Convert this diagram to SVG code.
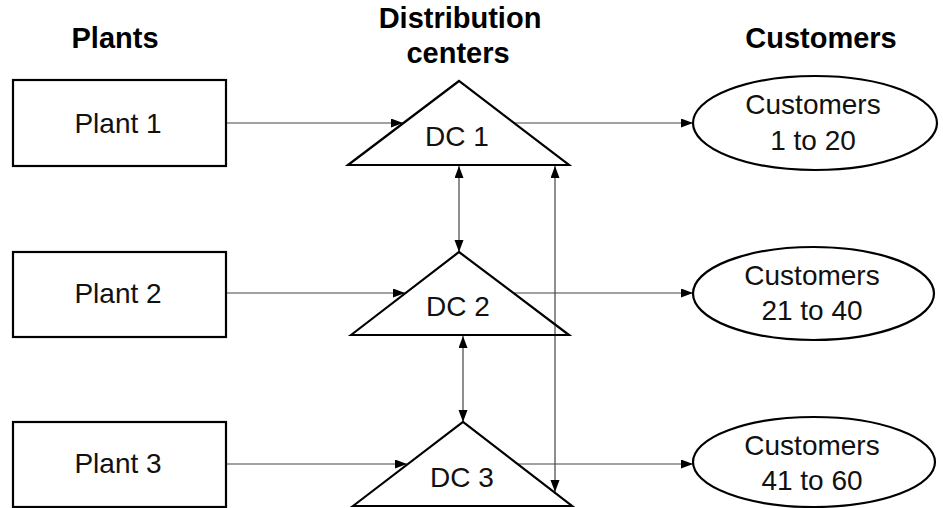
<svg xmlns="http://www.w3.org/2000/svg" width="943" height="508" viewBox="0 0 943 508">
  <style>
    .shape { fill: #ffffff; stroke: #000000; stroke-width: 2.2; }
    .head { font-family: "Liberation Sans", Arial, sans-serif; font-size: 29px; font-weight: bold; fill: #000000; text-anchor: middle; }
    .label { font-family: "Liberation Sans", Arial, sans-serif; font-size: 28px; fill: #111111; text-anchor: middle; }
    .conn { fill: none; stroke: #444444; stroke-width: 1.2; }
  </style>
  <defs>
    <marker id="arrow" markerUnits="userSpaceOnUse" markerWidth="13" markerHeight="10" refX="12" refY="4.5" orient="auto-start-reverse">
      <path d="M0,0 L12,4.5 L0,9 z" fill="#000000"/>
    </marker>
  </defs>

  <!-- column headings -->
  <text class="head" x="115" y="48">Plants</text>
  <text class="head" x="460" y="28">Distribution</text>
  <text class="head" x="458" y="63">centers</text>
  <text class="head" x="821" y="48">Customers</text>

  <!-- connectors -->
  <g id="connectors">
    <line class="conn" x1="226" y1="123" x2="403" y2="123" marker-end="url(#arrow)"/>
    <line class="conn" x1="226" y1="293" x2="405" y2="293" marker-end="url(#arrow)"/>
    <line class="conn" x1="226" y1="464" x2="407" y2="464" marker-end="url(#arrow)"/>
    <line class="conn" x1="514" y1="123" x2="693" y2="123" marker-end="url(#arrow)"/>
    <line class="conn" x1="513" y1="293" x2="693" y2="293" marker-end="url(#arrow)"/>
    <line class="conn" x1="517" y1="464" x2="693" y2="464" marker-end="url(#arrow)"/>
    <line class="conn" x1="459" y1="166" x2="459" y2="252" marker-start="url(#arrow)" marker-end="url(#arrow)"/>
    <line class="conn" x1="463" y1="336" x2="463" y2="422" marker-start="url(#arrow)" marker-end="url(#arrow)"/>
    <line class="conn" x1="555" y1="166" x2="555" y2="492" marker-start="url(#arrow)" marker-end="url(#arrow)"/>
  </g>

  <!-- plants -->
  <g id="plant1">
    <rect class="shape" x="13" y="80" width="213" height="86"/>
    <text class="label" x="118" y="133">Plant 1</text>
  </g>
  <g id="plant2">
    <rect class="shape" x="13" y="252" width="213" height="85"/>
    <text class="label" x="118" y="303">Plant 2</text>
  </g>
  <g id="plant3">
    <rect class="shape" x="13" y="422" width="213" height="85"/>
    <text class="label" x="118" y="473">Plant 3</text>
  </g>

  <!-- distribution centers -->
  <g id="dc1">
    <polygon class="shape" points="348,165 459,81 569,165" fill-opacity="0"/>
    <text class="label" x="457" y="146">DC 1</text>
  </g>
  <g id="dc2">
    <polygon class="shape" points="351,335 459,252 569,335" fill-opacity="0"/>
    <text class="label" x="458" y="316">DC 2</text>
  </g>
  <g id="dc3">
    <polygon class="shape" points="353,506 463,422 572,506" fill-opacity="0"/>
    <text class="label" x="462" y="487">DC 3</text>
  </g>

  <!-- customer groups -->
  <g id="customers1">
    <ellipse class="shape" cx="815" cy="123" rx="122" ry="47"/>
    <text class="label" x="813" y="114">Customers</text>
    <text class="label" x="813" y="150">1 to 20</text>
  </g>
  <g id="customers2">
    <ellipse class="shape" cx="813.5" cy="293.5" rx="120.5" ry="46.5"/>
    <text class="label" x="812" y="285">Customers</text>
    <text class="label" x="812" y="320">21 to 40</text>
  </g>
  <g id="customers3">
    <ellipse class="shape" cx="814" cy="462" rx="121" ry="45"/>
    <text class="label" x="812" y="455">Customers</text>
    <text class="label" x="812" y="490">41 to 60</text>
  </g>
</svg>
